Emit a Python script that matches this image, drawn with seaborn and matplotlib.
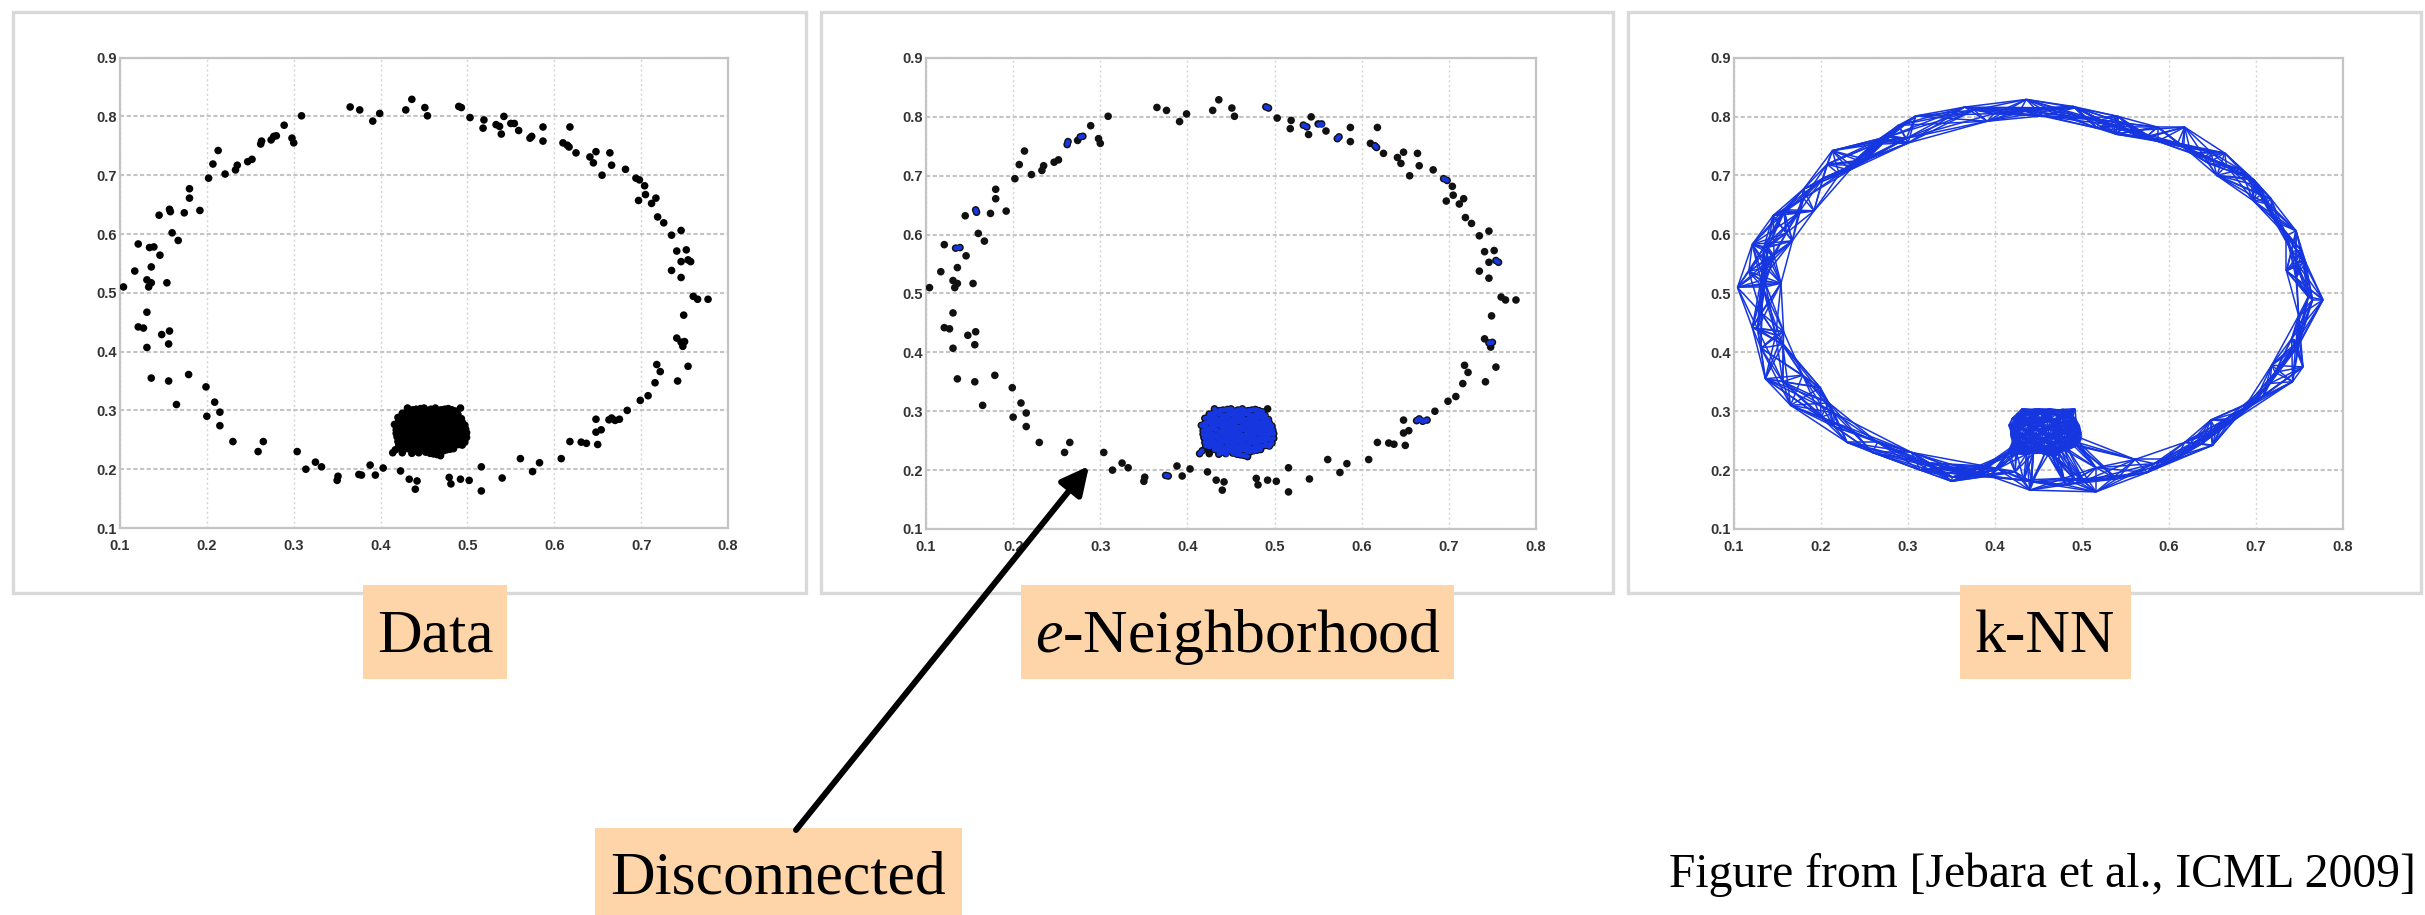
import numpy as np
import pandas as pd
import matplotlib
matplotlib.use("Agg")
import matplotlib.pyplot as plt
from matplotlib.collections import LineCollection
from matplotlib.patches import Rectangle
import seaborn as sns

# --- points on the noisy ring -------------------------------------------
ring_x = [0.365, 0.376, 0.391, 0.399, 0.429, 0.436, 0.451, 0.454, 0.490, 0.493,
          0.503, 0.519, 0.518, 0.533, 0.537, 0.539, 0.542, 0.550, 0.554, 0.559,
          0.572, 0.574, 0.587, 0.587, 0.610, 0.615, 0.618, 0.617, 0.625, 0.641,
          0.645, 0.648, 0.664, 0.666, 0.655, 0.682, 0.694, 0.698, 0.704, 0.697,
          0.705, 0.712, 0.717, 0.719, 0.726, 0.735, 0.746, 0.741, 0.752, 0.746,
          0.754, 0.757, 0.735, 0.746, 0.760, 0.765, 0.777, 0.749, 0.741, 0.746,
          0.748, 0.750, 0.754, 0.742, 0.718, 0.722, 0.716, 0.708, 0.699, 0.684,
          0.675, 0.666, 0.670, 0.663, 0.648, 0.654, 0.648, 0.637, 0.631, 0.650,
          0.618, 0.608, 0.583, 0.575, 0.561, 0.540, 0.516, 0.516, 0.502, 0.492,
          0.479, 0.481, 0.442, 0.440, 0.433, 0.423, 0.403, 0.394, 0.388, 0.378,
          0.375, 0.351, 0.350, 0.332, 0.325, 0.314, 0.304, 0.265, 0.259, 0.230,
          0.215, 0.215, 0.209, 0.200, 0.199, 0.179, 0.165, 0.156, 0.136, 0.156,
          0.157, 0.148, 0.131, 0.121, 0.127, 0.131, 0.104, 0.133, 0.136, 0.131,
          0.154, 0.117, 0.136, 0.146, 0.134, 0.139, 0.121, 0.160, 0.167, 0.145,
          0.157, 0.158, 0.174, 0.192, 0.180, 0.180, 0.202, 0.207, 0.213, 0.221,
          0.233, 0.235, 0.247, 0.252, 0.262, 0.263, 0.274, 0.277, 0.280, 0.289,
          0.298, 0.300, 0.309]
ring_y = [0.816, 0.811, 0.792, 0.805, 0.811, 0.829, 0.815, 0.801, 0.817, 0.815,
          0.798, 0.794, 0.780, 0.786, 0.783, 0.770, 0.800, 0.788, 0.788, 0.776,
          0.763, 0.766, 0.782, 0.758, 0.755, 0.751, 0.782, 0.748, 0.738, 0.731,
          0.721, 0.740, 0.738, 0.717, 0.700, 0.710, 0.695, 0.692, 0.682, 0.657,
          0.667, 0.652, 0.661, 0.629, 0.619, 0.598, 0.606, 0.571, 0.573, 0.553,
          0.556, 0.553, 0.538, 0.526, 0.494, 0.489, 0.489, 0.462, 0.423, 0.416,
          0.409, 0.417, 0.375, 0.350, 0.378, 0.366, 0.347, 0.325, 0.317, 0.300,
          0.285, 0.287, 0.283, 0.284, 0.285, 0.267, 0.263, 0.244, 0.246, 0.242,
          0.247, 0.218, 0.211, 0.196, 0.218, 0.185, 0.204, 0.163, 0.181, 0.183,
          0.186, 0.175, 0.180, 0.166, 0.183, 0.197, 0.202, 0.190, 0.207, 0.190,
          0.191, 0.188, 0.181, 0.204, 0.212, 0.200, 0.230, 0.247, 0.230, 0.247,
          0.274, 0.297, 0.314, 0.290, 0.340, 0.361, 0.310, 0.350, 0.355, 0.413,
          0.435, 0.429, 0.407, 0.442, 0.440, 0.467, 0.510, 0.510, 0.517, 0.522,
          0.517, 0.537, 0.544, 0.564, 0.577, 0.578, 0.583, 0.602, 0.589, 0.632,
          0.642, 0.638, 0.636, 0.640, 0.661, 0.677, 0.695, 0.719, 0.742, 0.702,
          0.709, 0.717, 0.723, 0.727, 0.753, 0.758, 0.760, 0.766, 0.767, 0.785,
          0.763, 0.755, 0.801]

# --- dense blob near the bottom of the ring --------------------------------
cluster_x = [0.431, 0.437, 0.446, 0.454, 0.463, 0.470, 0.478, 0.486, 0.492,
             0.425, 0.433, 0.441, 0.449, 0.458, 0.466, 0.474, 0.481, 0.489,
             0.420, 0.429, 0.437, 0.444, 0.452, 0.460, 0.467, 0.476, 0.484, 0.493,
             0.424, 0.432, 0.440, 0.448, 0.455, 0.463, 0.471, 0.479, 0.487,
             0.416, 0.427, 0.435, 0.443, 0.451, 0.458, 0.466, 0.474, 0.482, 0.490, 0.497,
             0.422, 0.430, 0.438, 0.446, 0.454, 0.462, 0.469, 0.477, 0.485, 0.494,
             0.418, 0.426, 0.434, 0.442, 0.450, 0.457, 0.465, 0.473, 0.481, 0.489, 0.499,
             0.423, 0.431, 0.439, 0.447, 0.455, 0.463, 0.471, 0.479, 0.487, 0.495,
             0.420, 0.428, 0.436, 0.444, 0.452, 0.460, 0.468, 0.476, 0.484, 0.497,
             0.425, 0.434, 0.442, 0.450, 0.458, 0.466, 0.474, 0.482, 0.490,
             0.417, 0.431, 0.440, 0.448, 0.456, 0.464, 0.472, 0.480,
             0.414, 0.436, 0.452, 0.461, 0.469,
             0.434, 0.450, 0.467, 0.482,
             0.429, 0.445, 0.462, 0.478, 0.486,
             0.426, 0.441, 0.456, 0.472, 0.488,
             0.420, 0.436, 0.452, 0.468, 0.484, 0.494,
             0.426, 0.442, 0.458, 0.473, 0.490,
             0.422, 0.438, 0.454, 0.469, 0.485, 0.495,
             0.427, 0.443, 0.459, 0.475, 0.491,
             0.424, 0.440, 0.456, 0.472, 0.488,
             0.430, 0.446, 0.462, 0.478, 0.494,
             0.436, 0.452, 0.468, 0.476,
             0.444, 0.457,
             0.441, 0.450, 0.458, 0.474, 0.482,
             0.429, 0.437, 0.445, 0.454, 0.462, 0.470, 0.478, 0.485,
             0.424, 0.433, 0.441, 0.448, 0.456, 0.464, 0.471, 0.480, 0.489,
             0.428, 0.436, 0.444, 0.452, 0.459, 0.467, 0.475, 0.483, 0.491,
             0.421, 0.431, 0.439, 0.447, 0.455, 0.462, 0.470, 0.478, 0.486, 0.494,
             0.418, 0.426, 0.434, 0.442, 0.450, 0.458, 0.466, 0.473, 0.481, 0.489, 0.498,
             0.422, 0.430, 0.438, 0.446, 0.454, 0.461, 0.469, 0.477, 0.485, 0.494,
             0.419, 0.427, 0.435, 0.443, 0.451, 0.459, 0.467, 0.475, 0.483, 0.491, 0.499,
             0.424, 0.432, 0.440, 0.448, 0.456, 0.464, 0.472, 0.480, 0.490,
             0.421, 0.430, 0.438, 0.446, 0.454, 0.462, 0.470, 0.478, 0.486, 0.494,
             0.424, 0.436, 0.444, 0.452, 0.460, 0.468, 0.476, 0.484,
             0.425, 0.444, 0.457, 0.465]
cluster_y = [0.304, 0.301, 0.303, 0.300, 0.304, 0.301, 0.303, 0.299, 0.304,
             0.295, 0.297, 0.293, 0.296, 0.294, 0.297, 0.292, 0.296, 0.293,
             0.288, 0.290, 0.286, 0.289, 0.287, 0.290, 0.285, 0.288, 0.290, 0.286,
             0.281, 0.283, 0.279, 0.282, 0.280, 0.283, 0.279, 0.282, 0.280,
             0.276, 0.274, 0.277, 0.273, 0.276, 0.272, 0.275, 0.273, 0.276, 0.273, 0.275,
             0.268, 0.270, 0.266, 0.269, 0.267, 0.270, 0.265, 0.268, 0.270, 0.266,
             0.261, 0.263, 0.259, 0.262, 0.260, 0.263, 0.258, 0.261, 0.263, 0.259, 0.262,
             0.254, 0.256, 0.252, 0.255, 0.253, 0.256, 0.251, 0.254, 0.256, 0.252,
             0.247, 0.249, 0.245, 0.248, 0.246, 0.249, 0.244, 0.247, 0.249, 0.246,
             0.240, 0.242, 0.238, 0.241, 0.239, 0.242, 0.237, 0.240, 0.242,
             0.233, 0.235, 0.231, 0.234, 0.232, 0.235, 0.231, 0.234,
             0.228, 0.227, 0.229, 0.226, 0.223,
             0.299, 0.298, 0.300, 0.297,
             0.292, 0.291, 0.293, 0.290, 0.292,
             0.285, 0.284, 0.286, 0.283, 0.285,
             0.279, 0.278, 0.279, 0.277, 0.279, 0.280,
             0.271, 0.272, 0.270, 0.272, 0.271,
             0.264, 0.265, 0.264, 0.262, 0.265, 0.264,
             0.257, 0.258, 0.256, 0.258, 0.257,
             0.251, 0.250, 0.251, 0.249, 0.250,
             0.243, 0.244, 0.243, 0.244, 0.243,
             0.236, 0.237, 0.236, 0.237,
             0.229, 0.230,
             0.302, 0.304, 0.302, 0.302, 0.301,
             0.296, 0.295, 0.294, 0.295, 0.296, 0.294, 0.294, 0.295,
             0.289, 0.288, 0.288, 0.288, 0.289, 0.288, 0.287, 0.289, 0.288,
             0.282, 0.281, 0.281, 0.281, 0.282, 0.281, 0.281, 0.281, 0.281,
             0.275, 0.276, 0.275, 0.275, 0.274, 0.274, 0.274, 0.275, 0.274, 0.274,
             0.267, 0.269, 0.268, 0.268, 0.268, 0.268, 0.268, 0.267, 0.269, 0.268, 0.268,
             0.262, 0.261, 0.261, 0.261, 0.262, 0.261, 0.260, 0.262, 0.261, 0.261,
             0.255, 0.255, 0.254, 0.254, 0.254, 0.254, 0.254, 0.253, 0.255, 0.254, 0.254,
             0.248, 0.247, 0.247, 0.247, 0.248, 0.247, 0.246, 0.248, 0.248,
             0.241, 0.241, 0.240, 0.240, 0.240, 0.240, 0.239, 0.239, 0.241, 0.241,
             0.234, 0.233, 0.233, 0.233, 0.234, 0.233, 0.233, 0.235,
             0.228, 0.228, 0.227, 0.225]

x_ticks = [0.1, 0.2, 0.3, 0.4, 0.5, 0.6, 0.7, 0.8]
y_ticks = [0.1, 0.2, 0.3, 0.4, 0.5, 0.6, 0.7, 0.8, 0.9]
x_tick_labels = ["0.1", "0.2", "0.3", "0.4", "0.5", "0.6", "0.7", "0.8"]
y_tick_labels = ["0.1", "0.2", "0.3", "0.4", "0.5", "0.6", "0.7", "0.8", "0.9"]

panel_titles = ["Data", r"$e$-Neighborhood", "k-NN"]
callout_text = "Disconnected"
source_text = "Figure from [Jebara et al., ICML 2009]"

eps_radius = 0.006   # epsilon-ball radius of the neighbourhood graph
knn_k = 12           # neighbours per node in the k-NN graph

GRAPH_BLUE = "#1636e0"
LABEL_FILL = "#fdd5a8"

sns.set_style("white")
plt.rcParams.update({
    "font.family": ["Liberation Sans", "DejaVu Sans"],
    "mathtext.fontset": "custom",
    "mathtext.rm": "Liberation Serif",
    "mathtext.it": "Liberation Serif:italic",
})

pts = pd.DataFrame({"x": ring_x + cluster_x, "y": ring_y + cluster_y})
xy = pts[["x", "y"]].to_numpy()
n = len(xy)
dist = np.sqrt(((xy[:, None, :] - xy[None, :, :]) ** 2).sum(-1))

# epsilon graph: every pair closer than the radius
ii, jj = np.where(np.triu(dist < eps_radius, k=1))
eps_segments = [[xy[i], xy[j]] for i, j in zip(ii, jj)]

# symmetric k-NN graph
nearest = np.argsort(dist, axis=1)[:, 1:knn_k + 1]
knn_edges = {(min(i, j), max(i, j)) for i in range(n) for j in nearest[i]}
knn_segments = [[xy[i], xy[j]] for i, j in sorted(knn_edges)]

W, H = 2425, 915
fig = plt.figure(figsize=(W / 100, H / 100), dpi=100)


def make_axes(left, right, top, bottom):
    ax = fig.add_axes([left / W, 1 - bottom / H, (right - left) / W, (bottom - top) / H])
    ax.set_xlim(0.1, 0.8)
    ax.set_ylim(0.1, 0.9)
    ax.set_xticks(x_ticks)
    ax.set_xticklabels(x_tick_labels)
    ax.set_yticks(y_ticks)
    ax.set_yticklabels(y_tick_labels)
    ax.tick_params(axis="both", length=0, labelsize=10.5, labelcolor="#333333")
    ax.tick_params(axis="x", pad=8)
    ax.tick_params(axis="y", pad=2)
    for lbl in ax.get_xticklabels() + ax.get_yticklabels():
        lbl.set_fontweight("bold")
    ax.yaxis.grid(True, color="#c4c4c4", lw=1.5, ls=(0, (2, 1.2)))
    ax.xaxis.grid(True, color="#d4d4d4", lw=1.0, ls=(0, (1.5, 2)))
    ax.set_axisbelow(True)
    for sp in ax.spines.values():
        sp.set_color("#c4c4c4")
        sp.set_linewidth(1.6)
    return ax


ax1 = make_axes(120, 728, 57.6, 528)
ax2 = make_axes(926, 1536, 58, 529)
ax3 = make_axes(1734, 2343, 57.6, 529)

# panel 1: raw data
sns.scatterplot(data=pts, x="x", y="y", ax=ax1, color="black", s=30,
                edgecolor="none", legend=False, zorder=3)

# panel 2: epsilon-neighbourhood graph drawn over the points
sns.scatterplot(data=pts, x="x", y="y", ax=ax2, color="#111111", s=30,
                edgecolor="none", legend=False, zorder=3)
ax2.add_collection(LineCollection(eps_segments, colors=GRAPH_BLUE, linewidths=3.4,
                                  capstyle="round", zorder=4))

# panel 3: k-nearest-neighbour graph
ax3.add_collection(LineCollection(knn_segments, colors=GRAPH_BLUE, linewidths=1.1,
                                  zorder=3))

for ax in (ax1, ax2, ax3):
    ax.set_xlim(0.1, 0.8)
    ax.set_ylim(0.1, 0.9)
    ax.set_xlabel("")
    ax.set_ylabel("")

# overlay in pixel coordinates for frames, captions and the arrow
ov = fig.add_axes([0, 0, 1, 1], zorder=10)
ov.set_xlim(0, W)
ov.set_ylim(H, 0)
ov.axis("off")

for (fx0, fy0, fx1, fy1) in [(13, 12, 806, 593), (821, 12, 1613, 593), (1628, 12, 2421, 593)]:
    ov.add_patch(Rectangle((fx0, fy0), fx1 - fx0, fy1 - fy0, fill=False,
                           ec="#d9d9d9", lw=2.4, zorder=1))

serif = ["Liberation Serif", "DejaVu Serif"]
caption_boxes = [(363, 507), (1021, 1454), (1960, 2131)]
for (bx0, bx1), title in zip(caption_boxes, panel_titles):
    ov.add_patch(Rectangle((bx0, 585), bx1 - bx0, 94, fc=LABEL_FILL, ec="none", zorder=2))
    ov.text((bx0 + bx1) / 2, 652, title, ha="center", va="baseline",
            fontsize=44.5, family=serif, color="black", zorder=3)

ov.add_patch(Rectangle((595, 828), 367, 90, fc=LABEL_FILL, ec="none", zorder=2))
ov.text(778.5, 893, callout_text, ha="center", va="baseline",
        fontsize=44.5, family=serif, color="black", zorder=3)

ov.annotate("", xy=(1089, 466), xytext=(796, 830),
            arrowprops=dict(arrowstyle="-|>", lw=4.3, color="black",
                            mutation_scale=42, shrinkA=0, shrinkB=0), zorder=4)

ov.text(2416, 887, source_text, ha="right", va="baseline",
        fontsize=34.3, family=serif, color="black", zorder=3)

fig.savefig("out.png", dpi=100)
